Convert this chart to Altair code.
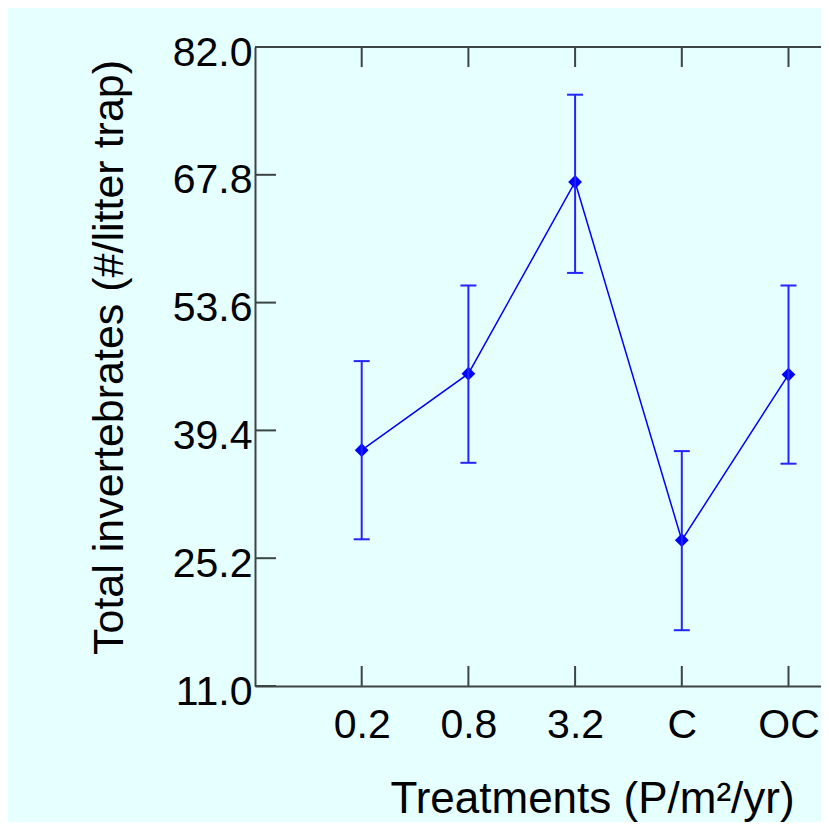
import altair as alt
import pandas as pd

# ---- data ----
treatments = ["0.2", "0.8", "3.2", "C", "OC"]
positions = [1, 2, 3, 4, 5]
means = [37.2, 45.7, 67.0, 27.2, 45.6]
upper = [47.1, 55.5, 76.7, 37.1, 55.5]
lower = [27.3, 35.8, 56.9, 17.2, 35.7]
y_ticks = [11.0, 25.2, 39.4, 53.6, 67.8, 82.0]

df = pd.DataFrame({
    "treatment": treatments,
    "pos": positions,
    "mean": means,
    "upper": upper,
    "lower": lower,
})
ydf = pd.DataFrame({"v": y_ticks})

W, H = 566, 639
STEP = 106.7
axis_color = "#3c4444"
blue = "#0000ff"
err_blue = "#2424ff"
font = "Liberation Sans"

xscale = alt.Scale(domain=[0, W / STEP], nice=False, zero=False)
yscale = alt.Scale(domain=[11, 82], nice=False, zero=False)

label_expr = "['', '0.2', '0.8', '3.2', 'C', 'OC'][datum.value]"

x_axis = alt.Axis(
    values=positions, labelExpr=label_expr, title="Treatments (P/m²/yr)",
    labelPadding=19, titleX=337, titleY=126, titleAlign="center",
    titleBaseline="alphabetic", labelFlush=False, titleFontSize=44,
)
y_axis = alt.Axis(
    values=y_ticks, format=".1f", title="Total invertebrates (#/litter trap)",
    labelPadding=3, labelOffset=6, titleAngle=270, titleX=-133, titleY=310,
    titleAlign="center", titleBaseline="alphabetic", labelFlush=False, titleFontSize=43,
)


def X(field):
    return alt.X(field, scale=xscale, axis=x_axis)


def Y(field):
    return alt.Y(field, scale=yscale, axis=y_axis)


base = alt.Chart(df)

points = base.mark_point(shape="diamond", filled=True, size=190, color=blue, opacity=1).encode(
    x=X("pos:Q"), y=Y("mean:Q"),
)

line = base.mark_line(color=blue, strokeWidth=1.5).encode(
    x=X("pos:Q"), y=Y("mean:Q"),
)

err = base.mark_rule(color=err_blue, strokeWidth=2).encode(
    x=X("pos:Q"), y=Y("lower:Q"), y2="upper:Q",
)

cap_hi = base.mark_tick(orient="horizontal", size=16, thickness=2, color=err_blue, opacity=1).encode(
    x=X("pos:Q"), y=Y("upper:Q"),
)
cap_lo = base.mark_tick(orient="horizontal", size=16, thickness=2, color=err_blue, opacity=1).encode(
    x=X("pos:Q"), y=Y("lower:Q"),
)

yticks = alt.Chart(ydf).mark_rule(color=axis_color, strokeWidth=2).encode(
    y=Y("v:Q"),
    x=alt.value(0),
    x2=alt.value(21),
)

xticks_bottom = base.mark_rule(color=axis_color, strokeWidth=2).encode(
    x=X("pos:Q"),
    y=alt.value(H - 20),
    y2=alt.value(H),
)
xticks_top = base.mark_rule(color=axis_color, strokeWidth=2).encode(
    x=X("pos:Q"),
    y=alt.value(0),
    y2=alt.value(20),
)

top_border = base.mark_rule(color=axis_color, strokeWidth=2).encode(
    x=alt.value(0),
    x2=alt.value(W),
    y=alt.value(0),
)

chart = alt.layer(
    points, top_border, yticks, xticks_bottom, xticks_top, line, err, cap_hi, cap_lo
).properties(
    width=W,
    height=H,
    autosize=alt.AutoSizeParams(type="none"),
    padding={"left": 247, "top": 39, "right": 0, "bottom": 136},
    background="#e6ffff",
).configure_view(
    stroke=None,
).configure_axis(
    domainColor=axis_color,
    domainWidth=2,
    ticks=False,
    tickSize=0,
    grid=False,
    labelFont=font,
    labelFontSize=41,
    labelColor="#000000",
    titleFont=font,
    titleFontSize=43,
    titleFontWeight="normal",
    titleColor="#000000",
)

chart.save("out.html", embed_options={"renderer": "svg", "actions": False})
